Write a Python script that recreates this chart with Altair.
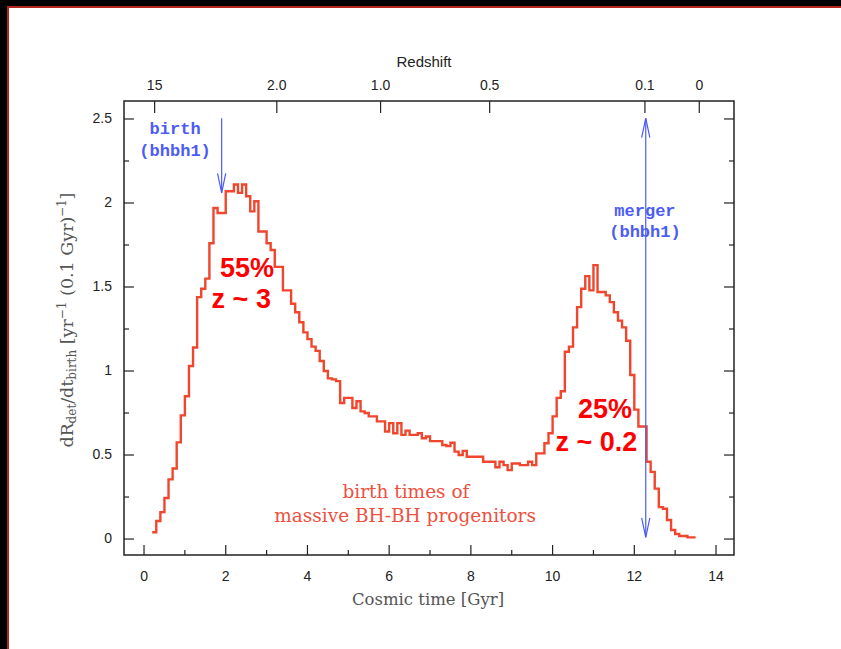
import altair as alt
import pandas as pd

# ---------------- data ----------------
BIN_START = 0.2      # Gyr, first bin start
BIN_WIDTH = 0.1      # Gyr
rate = [0.04, 0.107, 0.16, 0.244, 0.355, 0.42, 0.575, 0.736, 0.85, 1.03,
        1.14, 1.44, 1.49, 1.55, 1.76, 1.97, 1.94, 1.94, 2.07, 2.07,
        2.11, 2.06, 2.11, 2.04, 1.95, 2.01, 1.83, 1.83, 1.76, 1.72,
        1.62, 1.62, 1.48, 1.48, 1.40, 1.35, 1.29, 1.23, 1.19, 1.145,
        1.12, 1.06, 1.0, 0.956, 0.95, 0.94, 0.81, 0.84, 0.84, 0.78,
        0.82, 0.76, 0.75, 0.73, 0.73, 0.70, 0.70, 0.64, 0.69, 0.63,
        0.69, 0.62, 0.645, 0.62, 0.62, 0.63, 0.60, 0.61, 0.583, 0.583,
        0.583, 0.56, 0.553, 0.573, 0.52, 0.50, 0.525, 0.49, 0.49, 0.49,
        0.49, 0.46, 0.46, 0.46, 0.427, 0.46, 0.44, 0.41, 0.45, 0.45,
        0.44, 0.44, 0.46, 0.44, 0.51, 0.51, 0.57, 0.63, 0.73, 0.84,
        0.88, 1.115, 1.145, 1.26, 1.38, 1.49, 1.565, 1.48, 1.63, 1.47,
        1.47, 1.45, 1.41, 1.35, 1.30, 1.26, 1.18, 0.976, 0.77, 0.67,
        0.67, 0.46, 0.40, 0.30, 0.19, 0.18, 0.113, 0.054, 0.03, 0.018,
        0.018, 0.01, 0.01]

x_major = [0, 2, 4, 6, 8, 10, 12, 14]
x_major_label = ["0", "2", "4", "6", "8", "10", "12", "14"]
x_minor = [1, 3, 5, 7, 9, 11, 13]
y_major = [0, 0.5, 1, 1.5, 2, 2.5]
y_major_label = ["0", "0.5", "1", "1.5", "2", "2.5"]
y_minor = [0.25, 0.75, 1.25, 1.75, 2.25]
z_tick_time = [0.26, 3.25, 5.79, 8.46, 12.26, 13.59]
z_tick_label = ["15", "2.0", "1.0", "0.5", "0.1", "0"]

blue_text = ["birth", "(bhbh1)", "merger", "(bhbh1)"]
blue_t = [0.76, 0.76, 12.26, 12.26]
blue_v = [2.44, 2.31, 1.955, 1.825]

big_text = ["55%", "z ~ 3", "25%", "z ~ 0.2"]
big_t = [2.52, 2.38, 11.28, 11.07]
big_v = [1.61, 1.425, 0.765, 0.57]

note_text = ["birth times of", "massive BH-BH progenitors"]
note_t = [6.41, 6.39]
note_v = [0.28, 0.137]

arrow_t = [1.90, 12.28]
arrow_top = [2.505, 2.505]
arrow_bot = [2.06, 0.01]

# ---------------- styling ----------------
W, H = 610, 454
LEFT, TOP = 124, 101
XDOM = [-0.49, 14.44]
YDOM = [-0.095, 2.607]
LINE_RED = "#f0462d"
TXT_RED = "#ff0000"
SALMON = "#ee5040"
BLUE = "#4b5cf6"
AX = "#222222"
GREY = "#555555"
SANS = "Liberation Sans"
SERIF = "DejaVu Serif"

xs = alt.Scale(domain=XDOM, nice=False, zero=False)
ys = alt.Scale(domain=YDOM, nice=False, zero=False)

hist_t = [round(BIN_START + i * BIN_WIDTH, 2) for i in range(len(rate) + 1)]
hist = pd.DataFrame({"t": hist_t, "v": rate + [rate[-1]]})

line = alt.Chart(hist).mark_line(
    interpolate="step-after", color=LINE_RED, strokeWidth=2.4
).encode(
    x=alt.X("t:Q", scale=xs, axis=None),
    y=alt.Y("v:Q", scale=ys, axis=None),
)

one = pd.DataFrame({"a": [0]})

def xrules(vals, y0, y1):
    return alt.Chart(pd.DataFrame({"t": vals})).mark_rule(
        color=AX, strokeWidth=1.2
    ).encode(x=alt.X("t:Q", scale=xs, axis=None), y=alt.value(y0), y2=alt.value(y1))

def yrules(vals, x0, x1):
    return alt.Chart(pd.DataFrame({"v": vals})).mark_rule(
        color=AX, strokeWidth=1.2
    ).encode(y=alt.Y("v:Q", scale=ys, axis=None), x=alt.value(x0), x2=alt.value(x1))

ticks = [
    xrules(x_major, H, H - 10), xrules(x_minor, H, H - 5),
    xrules(z_tick_time, 0, 12),
    yrules(y_major, 0, 10), yrules(y_minor, 0, 5),
    yrules(y_major, W, W - 10), yrules(y_minor, W, W - 5),
]

bottom_labels = alt.Chart(pd.DataFrame({"t": x_major, "lab": x_major_label})).mark_text(
    font=SANS, fontSize=14, color=AX, baseline="middle", align="center"
).encode(x=alt.X("t:Q", scale=xs, axis=None), y=alt.value(577 - TOP), text="lab:N")

left_labels = alt.Chart(pd.DataFrame({"v": y_major, "lab": y_major_label})).mark_text(
    font=SANS, fontSize=14, color=AX, baseline="middle", align="right"
).encode(y=alt.Y("v:Q", scale=ys, axis=None), x=alt.value(-12), text="lab:N")

top_labels = alt.Chart(pd.DataFrame({"t": z_tick_time, "lab": z_tick_label})).mark_text(
    font=SANS, fontSize=14, color=AX, baseline="middle", align="center"
).encode(x=alt.X("t:Q", scale=xs, axis=None), y=alt.value(86 - TOP), text="lab:N")

redshift_title = alt.Chart(one).mark_text(
    text="Redshift", font=SANS, fontSize=15, color=AX, baseline="middle", align="center"
).encode(x=alt.value(424 - LEFT), y=alt.value(62 - TOP))

x_title = alt.Chart(one).mark_text(
    text="Cosmic time [Gyr]", font=SERIF, fontSize=16.5, color=GREY,
    baseline="middle", align="center"
).encode(x=alt.value(428 - LEFT), y=alt.value(600 - TOP))

# y title assembled from pieces (subscripts / superscripts)
W_EM = {"d": .640, "R": .734, "e": .592, "t": .402, "/": .337, "b": .640,
        "i": .320, "r": .478, "h": .644, " ": .318, "[": .390, "y": .565,
        "(": .390, "0": .636, ".": .318, "1": .636, "G": .775, ")": .390,
        "]": .390, "\u2212": .838}

def tw(s, size):
    return sum(W_EM.get(c, 0.6) for c in s) * size

pieces = [("dR", "n"), ("det", "sub"), ("/dt", "n"), ("birth", "sub"),
          (" [yr", "n"), ("\u22121", "sup"), (" (0.1 Gyr)", "n"),
          ("\u22121", "sup"), ("]", "n")]
SIZES = {"n": 17.5, "sub": 12, "sup": 12}
SHIFT = {"n": 0, "sub": 3, "sup": -7}
XB = 73 - LEFT
YC = 320 - TOP
total = sum(tw(s, SIZES[k]) for s, k in pieces)
ycur = YC + total / 2
rows = []
for s, k in pieces:
    lead = len(s) - len(s.lstrip(" "))
    ycur -= tw(" " * lead, SIZES[k])
    rows.append({"px": XB + SHIFT[k], "py": ycur, "txt": s.strip(" "), "k": k})
    ycur -= tw(s.lstrip(" "), SIZES[k])
ydf = pd.DataFrame(rows)

def ytitle_layer(kind):
    return alt.Chart(ydf[ydf.k == kind]).mark_text(
        font=SERIF, fontSize=SIZES[kind], color=GREY, angle=270,
        align="left", baseline="alphabetic"
    ).encode(x=alt.X("px:Q", scale=None, axis=None),
             y=alt.Y("py:Q", scale=None, axis=None), text="txt:N")

ytitle = [ytitle_layer("n"), ytitle_layer("sub"), ytitle_layer("sup")]

# annotations
def text_layer(texts, ts, vs, **kw):
    df = pd.DataFrame({"t": ts, "v": vs, "txt": texts})
    return alt.Chart(df).mark_text(align="center", baseline="middle", **kw).encode(
        x=alt.X("t:Q", scale=xs, axis=None), y=alt.Y("v:Q", scale=ys, axis=None),
        text="txt:N")

blue = text_layer(blue_text, blue_t, blue_v, font="Liberation Mono",
                  fontWeight="bold", fontSize=17, color=BLUE)
big = text_layer(big_text, big_t, big_v, font=SANS, fontWeight="bold",
                 fontSize=27, color=TXT_RED)
notes = text_layer(note_text, note_t, note_v, font=SERIF, fontSize=18.5, color=SALMON)

arrows_df = pd.DataFrame({"t": arrow_t, "top": arrow_top, "bot": arrow_bot})
shafts = alt.Chart(arrows_df).mark_rule(color=BLUE, strokeWidth=1.2).encode(
    x=alt.X("t:Q", scale=xs, axis=None),
    y=alt.Y("top:Q", scale=ys, axis=None), y2="bot:Q")
heads_down = alt.Chart(arrows_df).mark_point(
    shape="M -0.42 -2 L 0 0 L 0.42 -2", filled=False, stroke=BLUE,
    strokeWidth=1.2, size=380, opacity=1
).encode(x=alt.X("t:Q", scale=xs, axis=None), y=alt.Y("bot:Q", scale=ys, axis=None))
heads_up = alt.Chart(arrows_df[arrows_df.t > 5]).mark_point(
    shape="M -0.42 2 L 0 0 L 0.42 2", filled=False, stroke=BLUE,
    strokeWidth=1.2, size=380, opacity=1
).encode(x=alt.X("t:Q", scale=xs, axis=None), y=alt.Y("top:Q", scale=ys, axis=None))

# screenshot frame (dark band with red edge on top and left)
def band(x0, x1, y0, y1, color):
    return alt.Chart(one).mark_rect(color=color).encode(
        x=alt.value(x0 - LEFT), x2=alt.value(x1 - LEFT),
        y=alt.value(y0 - TOP), y2=alt.value(y1 - TOP))

frame = [
    band(0, 841, 0, 6, "#000000"),
    band(0, 7, 0, 649, "#000000"),
    band(7, 841, 6, 8, "#b3261e"),
    band(7, 9, 6, 649, "#b3261e"),
]

chart = alt.layer(
    *frame, line, *ticks, bottom_labels, left_labels, top_labels,
    redshift_title, x_title, *ytitle,
    notes, big, shafts, heads_down, heads_up, blue
).properties(
    width=W, height=H,
    autosize=alt.AutoSizeParams(type="none"),
    padding={"left": LEFT, "top": TOP, "right": 841 - LEFT - W, "bottom": 649 - TOP - H},
    background="white",
).configure_view(stroke=AX, strokeWidth=1.5)

chart.save("out.html", embed_options={"renderer": "svg", "actions": False})
